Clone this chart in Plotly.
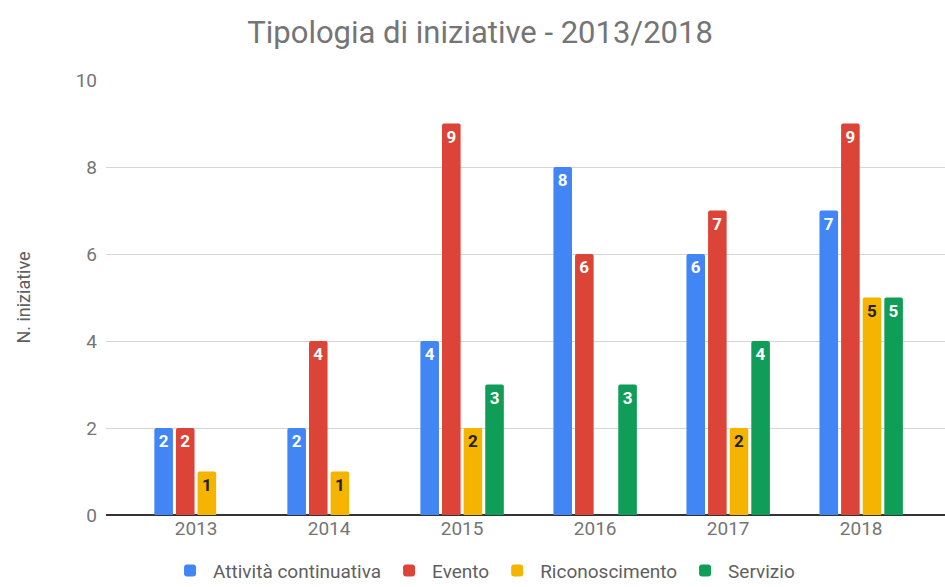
import plotly.graph_objects as go

years = ["2013", "2014", "2015", "2016", "2017", "2018"]
series_names = ["Attività continuativa", "Evento", "Riconoscimento", "Servizio"]
attivita = [2, 2, 4, 8, 6, 7]
evento = [2, 4, 9, 6, 7, 9]
riconoscimento = [1, 1, 2, 0, 2, 5]
servizio = [0, 0, 3, 3, 4, 5]

values = [attivita, evento, riconoscimento, servizio]
colors = ["#4285F4", "#DB4437", "#F4B400", "#0F9D58"]
label_colors = ["white", "white", "#222222", "white"]

fig = go.Figure()
for name, vals, col, lc in zip(series_names, values, colors, label_colors):
    fig.add_trace(go.Bar(
        name=name,
        x=years,
        y=vals,
        marker=dict(color=col, line=dict(width=0), cornerradius=2),
        text=[str(v) if v else "" for v in vals],
        textposition="inside",
        insidetextanchor="end",
        textangle=0,
        textfont=dict(family="Roboto", size=17, color=lc, weight="bold"),
        cliponaxis=False,
    ))

fig.update_layout(
    width=945,
    height=587,
    margin=dict(l=106, r=0, t=80, b=72, autoexpand=False),
    paper_bgcolor="white",
    plot_bgcolor="white",
    barmode="group",
    bargap=0.35,
    bargroupgap=0.14,
    font=dict(family="Roboto", color="#757575"),
    title=dict(
        text="Tipologia di iniziative - 2013/2018",
        x=0.508, xanchor="center",
        y=0.945, yanchor="middle",
        font=dict(family="Roboto", size=31, color="#757575"),
    ),
    legend=dict(
        orientation="h",
        x=0.45, xanchor="center",
        y=-0.128, yanchor="middle",
        font=dict(family="Roboto", size=19, color="#5f5f5f"),
        itemwidth=36,
        traceorder="normal",
    ),
    xaxis=dict(
        type="category",
        range=[-0.677, 5.63],
        showgrid=False,
        tickfont=dict(family="Roboto", size=19, color="#757575"),
        ticks="",
        showline=False,
        zeroline=False,
    ),
    yaxis=dict(
        range=[0, 10],
        tickvals=[0, 2, 4, 6, 8, 10],
        showgrid=True,
        gridcolor="#d6d6d6",
        gridwidth=1,
        zeroline=True,
        zerolinecolor="#333333",
        zerolinewidth=2,
        tickfont=dict(family="Roboto", size=19, color="#757575"),
        ticks="",
        ticklen=0,
        ticklabelstandoff=8,
        title=dict(text="N. iniziative", font=dict(family="Roboto", size=18, color="#5f5f5f"), standoff=40),
    ),
)

fig.write_html("out.html")
